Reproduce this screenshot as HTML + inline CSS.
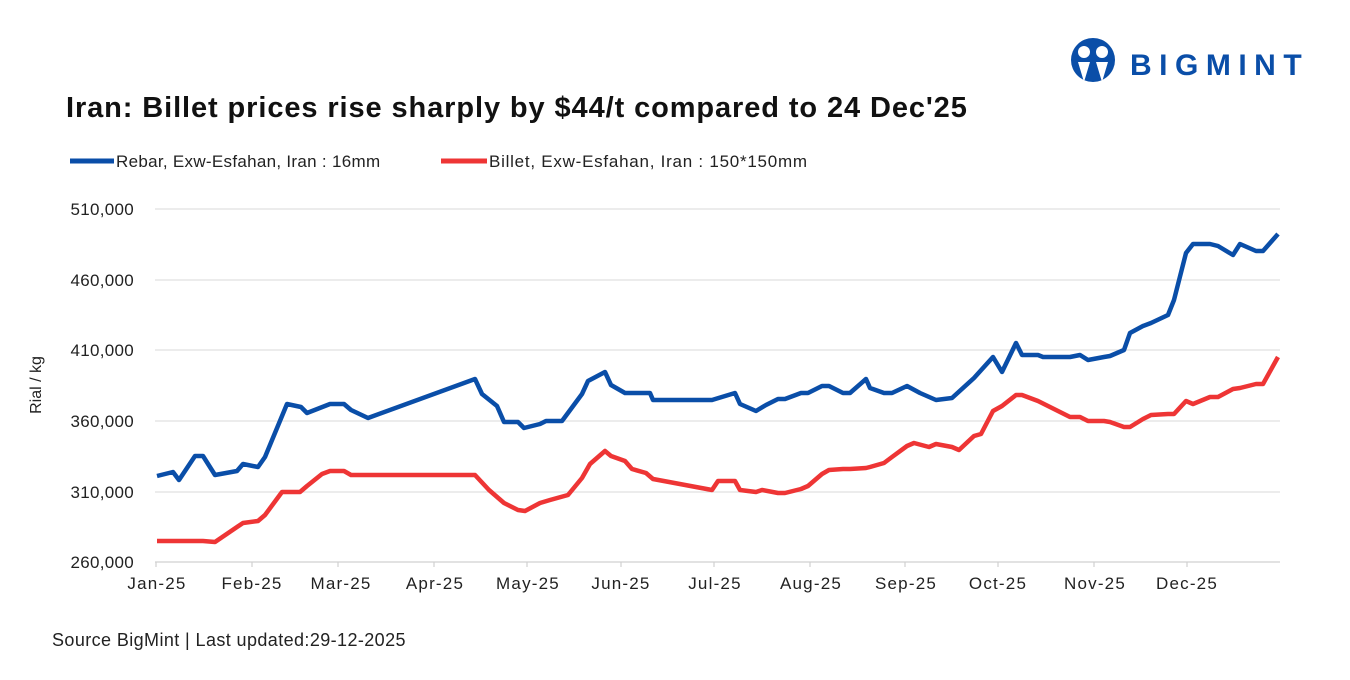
<!DOCTYPE html>
<html><head><meta charset="utf-8"><style>
body{margin:0;background:#fff;font-family:"Liberation Sans",sans-serif;}
</style></head><body>
<svg width="1350" height="675" viewBox="0 0 1350 675" xmlns="http://www.w3.org/2000/svg" font-family="Liberation Sans, sans-serif">
<rect width="1350" height="675" fill="#fff"/>
<g fill="#0a4ea8">
<circle cx="1093" cy="60" r="22"/>
<circle cx="1084" cy="52" r="6" fill="#fff"/>
<circle cx="1102" cy="52" r="6" fill="#fff"/>
<path d="M1078 62 L1084 82 L1090 62 Z M1096 62 L1102 82 L1108 62 Z" fill="#fff"/>
<text x="1130" y="75" font-size="30" font-weight="bold" letter-spacing="7.5">BIGMINT</text>
</g>
<text x="66" y="117" font-size="29" font-weight="bold" fill="#111" letter-spacing="0.9">Iran: Billet prices rise sharply by $44/t compared to 24 Dec'25</text>
<line x1="70" y1="161" x2="114" y2="161" stroke="#0a4ea8" stroke-width="5"/>
<text x="116" y="167" font-size="17" fill="#222" letter-spacing="0.3">Rebar, Exw-Esfahan, Iran : 16mm</text>
<line x1="441" y1="161" x2="487" y2="161" stroke="#ee3535" stroke-width="5"/>
<text x="489" y="167" font-size="17" fill="#222" letter-spacing="0.75">Billet, Exw-Esfahan, Iran : 150*150mm</text>
<g stroke="#d9d9d9" stroke-width="1">
<line x1="155" y1="209" x2="1280" y2="209"/><line x1="155" y1="280" x2="1280" y2="280"/>
<line x1="155" y1="350" x2="1280" y2="350"/><line x1="155" y1="421" x2="1280" y2="421"/>
<line x1="155" y1="492" x2="1280" y2="492"/>
</g>
<g stroke="#d0d0d0" stroke-width="1.2">
<line x1="155" y1="562" x2="1280" y2="562"/>
<line x1="156" y1="562" x2="156" y2="567"/><line x1="252" y1="562" x2="252" y2="567"/>
<line x1="338" y1="562" x2="338" y2="567"/><line x1="434" y1="562" x2="434" y2="567"/>
<line x1="527" y1="562" x2="527" y2="567"/><line x1="621" y1="562" x2="621" y2="567"/>
<line x1="714" y1="562" x2="714" y2="567"/><line x1="810" y1="562" x2="810" y2="567"/>
<line x1="905" y1="562" x2="905" y2="567"/><line x1="998" y1="562" x2="998" y2="567"/>
<line x1="1094" y1="562" x2="1094" y2="567"/><line x1="1187" y1="562" x2="1187" y2="567"/>
</g>
<g font-size="17" fill="#222" text-anchor="end" letter-spacing="0.3">
<text x="134" y="215">510,000</text><text x="134" y="286">460,000</text>
<text x="134" y="356">410,000</text><text x="134" y="427">360,000</text>
<text x="134" y="498">310,000</text><text x="134" y="568">260,000</text>
</g>
<text transform="translate(41,385) rotate(-90)" font-size="16" fill="#222" text-anchor="middle">Rial / kg</text>
<g font-size="17" fill="#222" text-anchor="middle" letter-spacing="1.2">
<text x="157" y="589">Jan-25</text><text x="252" y="589">Feb-25</text><text x="341" y="589">Mar-25</text>
<text x="435" y="589">Apr-25</text><text x="528" y="589">May-25</text><text x="621" y="589">Jun-25</text>
<text x="715" y="589">Jul-25</text><text x="811" y="589">Aug-25</text><text x="906" y="589">Sep-25</text>
<text x="998" y="589">Oct-25</text><text x="1095" y="589">Nov-25</text><text x="1187" y="589">Dec-25</text>
</g>
<polyline fill="none" stroke="#0a4ea8" stroke-width="4.5" stroke-linejoin="round" points="157,476 173,472 179,480 195,456 203,456 215,475 237,471 243,464 258,467 265,457 287,404 301,407 307,413 330,404 344,404 351,410 368,418 475,379 482,394 497,406 504,422 518,422 524,428 540,424 546,421 562,421 582,394 588,381 605,372 611,385 625,393 650,393 653,400 712,400 735,393 740,404 756,411 766,405 778,399 785,399 801,393 808,393 822,386 829,386 843,393 850,393 866,379 870,388 884,393 892,393 907,386 920,393 936,400 952,398 974,378 993,357 1002,372 1016,343 1022,355 1038,355 1043,357 1070,357 1080,355 1088,360 1104,357 1110,356 1124,350 1130,333 1143,326 1151,323 1168,315 1174,300 1186,253 1193,244 1210,244 1218,246 1233,255 1240,244 1256,251 1263,251 1278,234"/>
<polyline fill="none" stroke="#ee3535" stroke-width="4.5" stroke-linejoin="round" points="157,541 203,541 215,542 237,527 243,523 258,521 265,515 282,492 300,492 307,486 322,474 330,471 344,471 351,475 475,475 489,490 504,503 518,510 525,511 540,503 550,500 568,495 582,478 590,464 605,451 611,456 625,461 632,469 646,473 653,479 712,490 718,481 735,481 740,490 756,492 762,490 778,493 785,493 801,489 808,486 822,474 829,470 843,469 850,469 866,468 870,467 884,463 892,457 907,446 914,443 929,447 936,444 952,447 959,450 974,436 981,434 993,411 1002,406 1016,395 1022,395 1038,401 1070,417 1080,417 1088,421 1104,421 1110,422 1124,427 1130,427 1143,419 1151,415 1168,414 1174,414 1186,401 1193,404 1210,397 1218,397 1233,389 1240,388 1256,384 1263,384 1278,357"/>
<text x="52" y="646" font-size="18" fill="#222" letter-spacing="0.4">Source BigMint | Last updated:29-12-2025</text>
</svg>
</body></html>
